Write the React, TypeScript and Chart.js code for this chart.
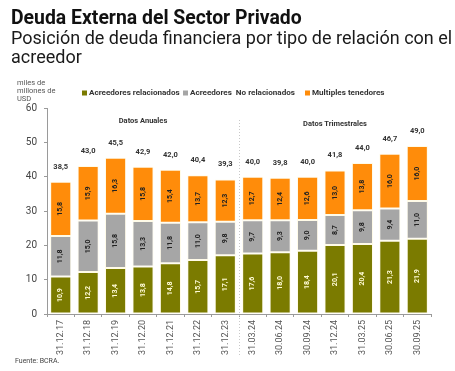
import React, { useEffect, useRef } from "react";
import { Chart, registerables } from "chart.js";

Chart.register(...registerables);

const categories = [
  "31.12.17", "31.12.18", "31.12.19", "31.12.20", "31.12.21", "31.12.22", "31.12.23",
  "31.03.24", "30.06.24", "30.09.24", "31.12.24", "31.03.25", "30.06.25", "30.09.25",
];
const relacionados = [10.9, 12.2, 13.4, 13.8, 14.8, 15.7, 17.1, 17.6, 18.0, 18.4, 20.1, 20.4, 21.3, 21.9];
const noRelacionados = [11.8, 15.0, 15.8, 13.3, 11.8, 11.0, 9.8, 9.7, 9.3, 9.0, 8.7, 9.8, 9.4, 11.0];
const multiples = [15.8, 15.9, 16.3, 15.8, 15.4, 13.7, 12.3, 12.7, 12.4, 12.6, 13.0, 13.8, 16.0, 16.0];
const totals = [38.5, 43.0, 45.5, 42.9, 42.0, 40.4, 39.3, 40.0, 39.8, 40.0, 41.8, 44.0, 46.7, 49.0];
const seriesNames = ["Acreedores relacionados", "Acreedores  No relacionados", "Multiples tenedores"];
const seriesColors = ["#7b7b00", "#a6a6a6", "#ff8c0a"];
const titleText = "Deuda Externa del Sector Privado";
const subtitleLines = ["Posición de deuda financiera por tipo de relación con el", "acreedor"];
const unitLines = ["miles de", "millones de", "USD"];
const periodLabels = ["Datos Anuales", "Datos Trimestrales"];
const sourceText = "Fuente: BCRA.";

const FONT = "Roboto, 'Liberation Sans', Arial, sans-serif";
const fmt = (v: number) => v.toFixed(1).replace(".", ",");

const overlayPlugin = {
  id: "overlay",
  afterDatasetsDraw(chart: any) {
    const ctx = chart.ctx;
    ctx.save();
    for (let d = 0; d < 3; d++) {
      const meta = chart.getDatasetMeta(d);
      const data = chart.data.datasets[d].data as number[];
      meta.data.forEach((bar: any, i: number) => {
        const cy = (bar.y + bar.base) / 2;
        ctx.save();
        ctx.translate(bar.x, cy);
        ctx.rotate(-Math.PI / 2);
        ctx.font = `bold 7px ${FONT}`;
        ctx.fillStyle = d === 0 ? "#fffbd6" : "#222222";
        ctx.textAlign = "center";
        ctx.textBaseline = "middle";
        ctx.fillText(fmt(data[i]), 0, 0);
        ctx.restore();
      });
    }
    const topMeta = chart.getDatasetMeta(2);
    ctx.font = `bold 7.5px ${FONT}`;
    ctx.fillStyle = "#333333";
    ctx.textAlign = "center";
    ctx.textBaseline = "middle";
    topMeta.data.forEach((bar: any, i: number) => {
      ctx.fillText(fmt(totals[i]), bar.x, bar.y - 15);
    });
    ctx.restore();
  },
  afterDraw(chart: any) {
    const ctx = chart.ctx;
    ctx.save();
    ctx.fillStyle = "#111111";
    ctx.textAlign = "left";
    ctx.textBaseline = "alphabetic";
    ctx.font = `bold 19.4px ${FONT}`;
    ctx.fillText(titleText, 11, 24);
    ctx.font = `18px ${FONT}`;
    ctx.fillStyle = "#1a1a1a";
    ctx.fillText(subtitleLines[0], 11, 44);
    ctx.fillText(subtitleLines[1], 11, 63);
    ctx.font = `7.5px ${FONT}`;
    ctx.fillStyle = "#555555";
    ctx.textBaseline = "middle";
    unitLines.forEach((t, i) => ctx.fillText(t, 17, 83 + i * 8));
    const legendX = [82, 183, 305];
    ctx.font = `bold 8.1px ${FONT}`;
    ctx.textBaseline = "middle";
    for (let i = 0; i < 3; i++) {
      ctx.fillStyle = seriesColors[i];
      ctx.fillRect(legendX[i], 90.5, 5, 5);
      ctx.fillStyle = "#333333";
      ctx.fillText(seriesNames[i], legendX[i] + 7, 93.3);
    }
    const m = chart.getDatasetMeta(0);
    const xDiv = (m.data[6].x + m.data[7].x) / 2;
    ctx.strokeStyle = "#c8c8c8";
    ctx.lineWidth = 1;
    ctx.setLineDash([1, 2]);
    ctx.beginPath();
    ctx.moveTo(Math.round(xDiv) + 0.5, 120);
    ctx.lineTo(Math.round(xDiv) + 0.5, 355);
    ctx.stroke();
    ctx.setLineDash([]);
    ctx.font = `bold 7.5px ${FONT}`;
    ctx.fillStyle = "#333333";
    ctx.textAlign = "center";
    ctx.fillText(periodLabels[0], (m.data[0].x + m.data[6].x) / 2, 121.5);
    ctx.fillText(periodLabels[1], (m.data[7].x + m.data[13].x) / 2, 124.5);
    ctx.textAlign = "left";
    ctx.font = `7px ${FONT}`;
    ctx.fillStyle = "#444444";
    ctx.fillText(sourceText, 15, 361);
    ctx.restore();
  },
};

export default function App() {
  const ref = useRef<HTMLCanvasElement | null>(null);
  useEffect(() => {
    if (!ref.current) return;
    const chart = new Chart(ref.current, {
      type: "bar",
      data: {
        labels: categories,
        datasets: [relacionados, noRelacionados, multiples].map((data, i) => ({
          label: seriesNames[i],
          data,
          backgroundColor: seriesColors[i],
          borderColor: "#fffbe8",
          borderWidth: 1,
          borderSkipped: false,
          barPercentage: 0.77,
          categoryPercentage: 1,
        })),
      },
      options: {
        responsive: false,
        animation: false,
        events: [],
        layout: { padding: { top: 108, left: 7, right: 24, bottom: 0 } },
        plugins: { legend: { display: false }, title: { display: false }, tooltip: { enabled: false } },
        scales: {
          x: {
            stacked: true,
            grid: { drawOnChartArea: false, drawTicks: true, tickLength: 3, color: "#9a9a9a" },
            border: { color: "#9a9a9a" },
            ticks: {
              minRotation: 90,
              maxRotation: 90,
              autoSkip: false,
              padding: 3,
              color: "#555555",
              font: { family: FONT, size: 9 },
            },
            afterFit: (s: any) => { s.height = 57; },
          },
          y: {
            stacked: true,
            min: 0,
            max: 60,
            grid: { drawOnChartArea: false, drawTicks: true, tickLength: 3, color: "#9a9a9a" },
            border: { color: "#9a9a9a" },
            ticks: {
              stepSize: 10,
              padding: 7,
              color: "#444444",
              font: { family: FONT, size: 10 },
            },
            afterFit: (s: any) => { s.width = 40; },
          },
        },
      },
      plugins: [overlayPlugin],
    });
    return () => chart.destroy();
  }, []);
  return (
    <div style={{ position: "absolute", left: 0, top: 0, width: 455, height: 371, background: "#ffffff" }}>
      <canvas ref={ref} width={455} height={371} />
    </div>
  );
}
